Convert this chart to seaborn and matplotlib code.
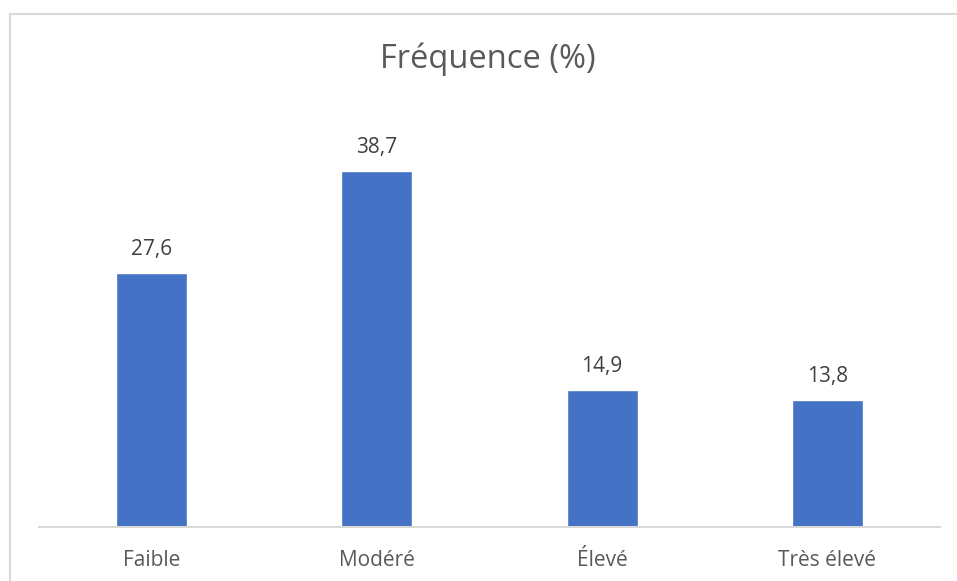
import matplotlib
matplotlib.use("Agg")
import matplotlib.pyplot as plt
import seaborn as sns
import pandas as pd
from matplotlib.patches import Rectangle

categories = ["Faible", "Modéré", "Élevé", "Très élevé"]
frequences = [27.6, 38.7, 14.9, 13.8]
labels = ["27,6", "38,7", "14,9", "13,8"]

sns.set_theme(style="white")
plt.rcParams["font.family"] = ["Open Sans", "DejaVu Sans"]

W, H = 957, 581
fig = plt.figure(figsize=(W / 100, H / 100), dpi=100)
fig.patch.set_facecolor("white")

# chart area frame
fig.patches.append(Rectangle((10 / W, -0.01), (W + 5 - 10) / W, (H - 14) / H + 0.01,
                             transform=fig.transFigure, fill=False,
                             edgecolor="#D9D9D9", linewidth=1.5))

ax = fig.add_axes([39 / W, (H - 527) / H, (940 - 39) / W, (527 - 113) / H])
df = pd.DataFrame({"cat": categories, "val": frequences})
sns.barplot(data=df, x="cat", y="val", color="#4472C4", saturation=1,
            width=0.315, ax=ax)

ax.set_ylim(0, 45)
ax.set_xlim(-0.5, 3.5)
ax.set_xlabel("")
ax.set_ylabel("")
ax.set_yticks([])
for s in ["top", "left", "right"]:
    ax.spines[s].set_visible(False)
ax.spines["bottom"].set_color("#D9D9D9")
ax.spines["bottom"].set_linewidth(1.5)
ax.tick_params(axis="x", length=0, pad=16.5, labelsize=15, labelcolor="#595959")

for bar, lab in zip(ax.patches, labels):
    ax.annotate(lab, (bar.get_x() + bar.get_width() / 2, bar.get_height()),
                xytext=(0, 9.5), textcoords="offset points", ha="center",
                va="bottom", fontsize=15, color="#404040")

fig.text(488 / W, 1 - 59 / H, "Fréquence (%)", ha="center", va="center",
         fontsize=23.5, color="#595959")

fig.savefig("out.png", dpi=100)
